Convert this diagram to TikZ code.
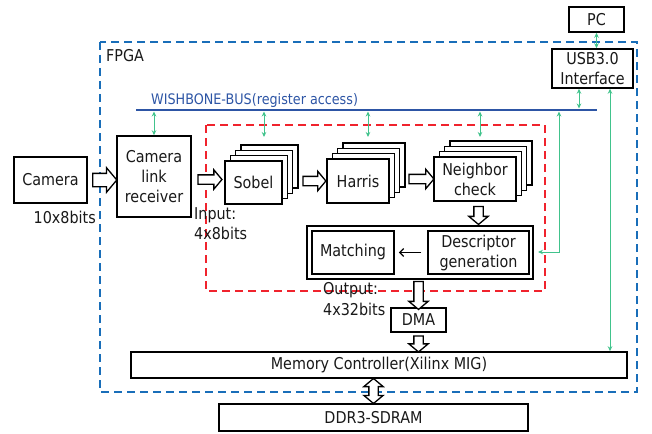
\documentclass[tikz,border=0pt]{standalone}
\usepackage{fontspec}
\setmainfont{DejaVu Sans}[FakeStretch=0.88]
\usetikzlibrary{shapes.arrows,arrows.meta,calc}
\definecolor{fpgablue}{RGB}{25,110,185}
\definecolor{busblue}{RGB}{45,85,165}
\definecolor{reddash}{RGB}{240,35,45}
\definecolor{grnline}{RGB}{65,195,140}
\newcommand\mainfnt{\fontsize{16.3}{20}\selectfont}
\newcommand\busfnt{\fontsize{14.5}{18}\selectfont}
\tikzset{
  box/.style={draw=black, line width=1.5pt, fill=white, inner sep=0pt, align=center, font=\mainfnt, text=black!90},
  lbl/.style={inner sep=0pt, font=\mainfnt, text=black!90},
  blk/.style={single arrow, draw=black, line width=1.3pt, fill=white, inner sep=0pt,
     text height=8pt, text depth=0pt, single arrow head extend=5pt, single arrow head indent=0pt,
     single arrow tip angle=100, minimum height=#1},
  blk/.default=24pt,
  dblk/.style={double arrow, draw=black, line width=1.3pt, fill=white, inner sep=0pt,
     text height=8pt, text depth=0pt, double arrow head extend=5pt, double arrow head indent=0pt,
     double arrow tip angle=100, minimum height=#1},
  dblk/.default=25pt,
  grn/.style={draw=grnline, line width=0.9pt, arrows={Stealth[length=5pt,width=4.5pt]-Stealth[length=5pt,width=4.5pt]}},
  bdash/.style={draw=fpgablue, line width=1.4pt, dash pattern=on 8pt off 5pt},
  rdash/.style={draw=reddash, line width=1.4pt, dash pattern=on 8pt off 5pt},
}
\begin{document}
\begin{tikzpicture}[x=1pt,y=-1pt]
\useasboundingbox (0,0) rectangle (652,433);
% dashed regions
\draw[bdash] (100,42) rectangle (637,392);
\draw[rdash] (206,125) rectangle (545,291);
\node[lbl, anchor=west] (fpgalbl) at (106,56) {FPGA};
% bus
\coordinate (busL) at (136,110);
\coordinate (busR) at (597,110);
\draw[draw=busblue, line width=1.4pt] (busL) -- (busR);
\node[inner sep=0pt, font=\busfnt, text=busblue, anchor=west] (buslbl) at (151,100) {WISHBONE-BUS(register access)};
% boxes
\node[box, minimum width=55pt, minimum height=25pt] (pc) at (596.5,19.5) {PC};
\node[box, minimum width=81pt, minimum height=39pt] (usb) at (592.5,68.5) {USB3.0\\Interface};
\node[box, minimum width=73pt, minimum height=46pt] (cam) at (50.5,180) {Camera};
\node[lbl, anchor=east] (camlbl) at (96,217) {10x8bits};
\node[box, minimum width=74pt, minimum height=81pt] (clr) at (154,176.5) {Camera\\link\\receiver};
% stacks
\foreach \k in {3,2,1}
  \node[box, minimum width=57pt, minimum height=43pt] (sob\k) at ({253.5+5.3*\k},{182.5-5.3*\k}) {};
\node[box, minimum width=57pt, minimum height=43pt] (sob) at (253.5,182.5) {Sobel};
\foreach \k in {3,2,1}
  \node[box, minimum width=62pt, minimum height=44pt] (har\k) at ({358+5.3*\k},{181-5.3*\k}) {};
\node[box, minimum width=62pt, minimum height=44pt] (har) at (358,181) {Harris};
\foreach \k in {3,2,1}
  \node[box, minimum width=82pt, minimum height=44pt] (nb\k) at ({475+5.3*\k},{179-5.3*\k}) {};
\node[box, minimum width=82pt, minimum height=44pt] (nb) at (475,179) {Neighbor\\check};
\node[lbl, anchor=base west] (inlbl1) at (194,219) {Input:};
\node[lbl, anchor=base west] (inlbl2) at (194,239) {4x8bits};
% descriptor group
\node[box, minimum width=226pt, minimum height=53pt] (grp) at (420,252.5) {};
\node[box, minimum width=82pt, minimum height=43pt] (match) at (353,252.5) {Matching};
\node[box, minimum width=101pt, minimum height=43pt] (desc) at (478.5,252.5) {Descriptor\\generation};
\draw[line width=1.3pt, -{Straight Barb[length=4pt,width=8pt]}, shorten <=6pt, shorten >=4pt] (desc.west) -- (match.east);
\node[lbl, anchor=base west] (outlbl1) at (323,294) {Output:};
\node[lbl, anchor=base west] (outlbl2) at (323,315) {4x32bits};
\node[box, minimum width=55pt, minimum height=24pt] (dma) at (418.5,320) {DMA};
\node[box, minimum width=496pt, minimum height=26pt] (mem) at (379,365) {Memory Controller(Xilinx MIG)};
\node[box, minimum width=309pt, minimum height=27pt] (ddr) at (373.5,417.5) {DDR3-SDRAM};
% block arrows
\path ($(cam.east)!0.5!(clr.west)$) coordinate (a1);
\node[blk=24pt, text height=12pt, single arrow head extend=5.5pt] (arr1) at (a1 |- cam) {};
\path ($(clr.east)!0.5!(sob.west)$) coordinate (a2);
\node[blk=24pt] (arr2) at (a2) {};
\path ($(sob3.east)!0.5!(har.west)$) coordinate (a3);
\node[blk=23pt] (arr3) at (a3 |- har) {};
\path ($(har3.east)!0.5!(nb.west)$) coordinate (a4);
\node[blk=25pt] (arr4) at (a4 |- nb) {};
\path ($(nb.south)!0.5!(grp.north)$) coordinate (a5);
\node[blk=18pt, rotate=-90] (arr5) at (a5 -| desc) {};
\path ($(grp.south)!0.5!(dma.north)$) coordinate (a6);
\node[blk=28pt, rotate=-90] (arr6) at (a6 -| dma) {};
\path ($(dma.south)!0.5!(mem.north)$) coordinate (a7);
\node[blk=16pt, rotate=-90] (arr7) at (a7 -| dma) {};
\path ($(mem.south)!0.5!(ddr.north)$) coordinate (a8);
\node[dblk=25pt, rotate=90] (arr8) at (a8 -| ddr) {};
% green links
\coordinate (g1) at (154,111.5);
\draw[grn] (g1) -- (clr.north);
\coordinate (g2a) at (264,111.5); \coordinate (g2b) at (264,137);
\draw[grn] (g2a) -- (g2b);
\coordinate (g3a) at (368,111.5); \coordinate (g3b) at (368,137);
\draw[grn] (g3a) -- (g3b);
\coordinate (g4a) at (480,111.5); \coordinate (g4b) at (480,137);
\draw[grn] (g4a) -- (g4b);
\coordinate (g5) at (579,108.5);
\draw[grn] (usb.south -| g5) -- (g5);
\draw[grn] (pc.south) -- (pc.south |- usb.north);
\coordinate (g6) at (610,0);
\draw[grn] (usb.south -| g6) -- (mem.north -| g6);
\coordinate (g7) at (559,111.5); \coordinate (g8) at (538,252);
\draw[grn] (g7) |- (g8);
\end{tikzpicture}
\end{document}
